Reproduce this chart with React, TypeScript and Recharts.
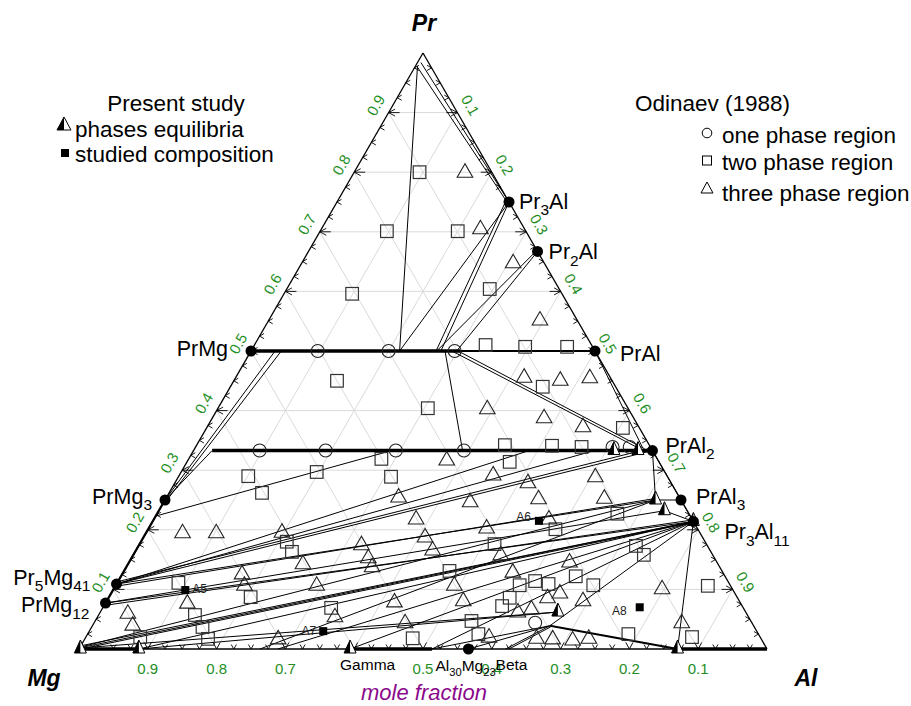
import React from 'react';
import { ScatterChart, Scatter, XAxis, YAxis } from 'recharts';

// Compositions are written as [x(Al), x(Pr)]; x(Mg) = 1 - x(Al) - x(Pr).
type Comp = [number, number];
type Seg = [Comp, Comp];

// Intermetallic phases on the binary edges
const PHASE_NAMES = ['Pr3Al', 'Pr2Al', 'PrAl', 'PrAl2', 'PrAl3', 'Pr3Al11', 'PrMg', 'PrMg3', 'Pr5Mg41', 'PrMg12', 'Al30Mg23'];
const PHASE_AL = [0.25, 0.333, 0.5, 0.667, 0.75, 0.786, 0, 0, 0, 0, 0.566];
const PHASE_PR = [0.75, 0.667, 0.5, 0.333, 0.25, 0.214, 0.5, 0.25, 0.109, 0.077, 0];

// Al-Mg side phases named only by text
const SIDE_NAMES = ['Gamma', 'Beta'];
const SIDE_AL = [0.394, 0.62];

// Odinaev (1988) alloys
const ONE_PHASE: Comp[] = [
  [0.097, 0.5], [0.2, 0.5], [0.296, 0.5],
  [0.096, 0.333], [0.192, 0.333], [0.294, 0.333], [0.393, 0.333],
  [0.606, 0.339], [0.631, 0.339], [0.641, 0.044],
];

const TWO_PHASE: Comp[] = [
  [0.095, 0.8], [0.097, 0.701], [0.2, 0.701], [0.099, 0.596], [0.295, 0.604],
  [0.336, 0.51], [0.395, 0.507], [0.456, 0.507],
  [0.15, 0.45], [0.305, 0.404], [0.454, 0.44], [0.605, 0.371],
  [0.448, 0.342], [0.517, 0.341], [0.561, 0.339],
  [0.28, 0.319], [0.469, 0.314], [0.309, 0.289], [0.669, 0.227], [0.592, 0.201], [0.516, 0.176], [0.473, 0.131],
  [0.723, 0.173], [0.742, 0.158], [0.661, 0.122], [0.606, 0.114], [0.628, 0.109], [0.587, 0.107], [0.694, 0.107],
  [0.583, 0.086], [0.579, 0.072], [0.547, 0.047], [0.568, 0.025], [0.476, 0.018], [0.786, 0.025], [0.861, 0.106], [0.881, 0.02],
  [0.101, 0.29], [0.197, 0.297], [0.135, 0.262], [0.212, 0.18], [0.228, 0.163], [0.089, 0.111], [0.206, 0.087], [0.332, 0.069],
  [0.14, 0.057], [0.161, 0.037], [0.179, 0.017], [0.079, 0.02],
];

const THREE_PHASE: Comp[] = [
  [0.161, 0.8], [0.231, 0.705], [0.307, 0.648], [0.394, 0.552],
  [0.392, 0.403], [0.419, 0.456], [0.474, 0.451], [0.515, 0.455], [0.482, 0.388], [0.546, 0.373],
  [0.376, 0.317], [0.456, 0.292], [0.606, 0.289], [0.513, 0.279], [0.337, 0.255], [0.445, 0.247], [0.542, 0.252], [0.637, 0.253],
  [0.574, 0.218], [0.381, 0.218], [0.491, 0.203], [0.409, 0.188], [0.323, 0.175], [0.431, 0.166], [0.344, 0.153], [0.534, 0.158],
  [0.357, 0.138], [0.566, 0.129], [0.64, 0.146], [0.492, 0.107], [0.652, 0.094], [0.638, 0.086], [0.518, 0.081], [0.419, 0.079],
  [0.692, 0.081], [0.607, 0.062], [0.624, 0.067], [0.452, 0.044], [0.586, 0.02], [0.656, 0.018], [0.68, 0.017], [0.71, 0.015], [0.732, 0.018],
  [0.797, 0.101], [0.854, 0.044], [0.345, 0.054],
  [0.053, 0.195], [0.102, 0.195], [0.197, 0.196], [0.254, 0.143], [0.174, 0.126], [0.187, 0.107], [0.292, 0.107], [0.119, 0.077],
  [0.041, 0.06], [0.058, 0.04], [0.281, 0.017],
];

// Present study
const EQUILIBRIA: Comp[] = [
  [0.002, 0], [0.087, 0], [0.394, 0], [0.665, 0.062], [0.87, 0],
  [0.611, 0.333], [0.646, 0.333], [0.713, 0.25], [0.735, 0.232], [0.786, 0.214],
];
const SAMPLE_NAMES = ['A5', 'A6', 'A7', 'A8'];
const SAMPLE_AL = [0.105, 0.561, 0.34, 0.78];
const SAMPLE_PR = [0.099, 0.215, 0.03, 0.07];

// Tie lines and phase boundaries
const TIE_LINES: Seg[] = [
  [[0.003, 0.977], [0.245, 0.752]], [[0.005, 0.984], [0.25, 0.75]], [[0.003, 0.978], [0.216, 0.5]],
  [[0.216, 0.5], [0.25, 0.75]], [[0.269, 0.5], [0.245, 0.748]], [[0.276, 0.5], [0.25, 0.75]],
  [[0.27, 0.5], [0.33, 0.666]], [[0.299, 0.5], [0.333, 0.667]],
  [[0.035, 0.5], [0, 0.25]], [[0.044, 0.5], [0.003, 0.25]], [[0.027, 0.333], [0, 0.25]],
  [[0.282, 0.5], [0.391, 0.333]], [[0.292, 0.5], [0.647, 0.336]], [[0.301, 0.5], [0.654, 0.336]],
  [[0.5, 0.5], [0.651, 0.337]],
  [[0.667, 0.333], [0.713, 0.25]], [[0.667, 0.333], [0.786, 0.214]], [[0.713, 0.25], [0.75, 0.25]], [[0.735, 0.232], [0.786, 0.214]],
  [[0, 0.223], [0.288, 0.333]], [[0, 0.109], [0.488, 0.333]], [[0, 0.109], [0.583, 0.333]],
  [[0, 0.109], [0.667, 0.333]], [[0, 0.113], [0.66, 0.336]],
  [[0, 0.109], [0.713, 0.25]], [[0, 0.105], [0.709, 0.252]],
  [[0, 0.077], [0.786, 0.214]], [[0, 0.073], [0.781, 0.216]], [[0, 0.077], [0.735, 0.232]],
  [[0.004, 0.003], [0.786, 0.214]], [[0.01, 0.002], [0.784, 0.212]], [[0.002, 0.006], [0.786, 0.214]],
  [[0.004, 0.002], [0.665, 0.062]], [[0.003, 0.004], [0.713, 0.25]],
  [[0.087, 0], [0.786, 0.214]], [[0.087, 0], [0.665, 0.062]],
  [[0.263, 0], [0.713, 0.25]], [[0.289, 0], [0.786, 0.214]],
  [[0.394, 0], [0.786, 0.214]], [[0.513, 0], [0.786, 0.214]],
  [[0.513, 0], [0.665, 0.039]], [[0.665, 0.039], [0.62, 0]], [[0.667, 0.037], [0.625, 0]],
  [[0.665, 0.039], [0.566, 0]], [[0.665, 0.039], [0.786, 0.214]], [[0.87, 0], [0.786, 0.214]],
];
const HEAVY_LINES: Seg[] = [
  [[0, 0.5], [0.304, 0.5]], [[0.027, 0.333], [0.667, 0.333]],
  [[0, 0], [0.087, 0]], [[0.394, 0], [0.513, 0]], [[0.87, 0], [1, 0]],
];
const MEDIUM_LINES: Seg[] = [
  [[0.304, 0.5], [0.5, 0.5]], [[0.665, 0.039], [0.87, 0]], [[0, 0.077], [0, 0.25]],
];

// Axis ticks
const TICK_VALUES = [0.1, 0.2, 0.3, 0.4, 0.5, 0.6, 0.7, 0.8, 0.9];
const PR_TICK_LABELS = ['0.1', '0.2', '0.3', '0.4', '0.5', '0.6', '0.7', '0.8', '0.9'];
const AL_TICK_LABELS = ['0.1', '0.2', '0.3', '0.4', '0.5', '0.6', '0.7', '0.8', '0.9'];
const MG_TICK_VALUES = [0.9, 0.8, 0.7, 0.5, 0.4, 0.3, 0.2, 0.1];
const MG_TICK_LABELS = ['0.9', '0.8', '0.7', '0.5', '0.4', '0.3', '0.2', '0.1'];
const MINOR_DIVISIONS = 40;

// ---------------------------------------------------------------------------
const H = Math.sqrt(3) / 2;
const FONT = '"Liberation Sans", Arial, Helvetica, sans-serif';
const GREEN = '#1e8e1e';
const W = 911;
const HT = 706;

const pt = (al: number, pr: number, extra: Record<string, unknown> = {}) => ({ x: al + pr / 2, y: pr * H, ...extra });

const LABEL_POS: Record<string, { dx: number; dy: number; anchor: 'start' | 'end'; size: number }> = {
  Pr3Al: { dx: 10, dy: 7, anchor: 'start', size: 21.5 },
  Pr2Al: { dx: 11, dy: 8, anchor: 'start', size: 21.5 },
  PrAl: { dx: 25, dy: 10, anchor: 'start', size: 21.5 },
  PrAl2: { dx: 13, dy: 2, anchor: 'start', size: 21.5 },
  PrAl3: { dx: 15, dy: 4, anchor: 'start', size: 21.5 },
  Pr3Al11: { dx: 31, dy: 18, anchor: 'start', size: 21.5 },
  PrMg: { dx: -23, dy: 5, anchor: 'end', size: 21.5 },
  PrMg3: { dx: -13, dy: 4, anchor: 'end', size: 21.5 },
  Pr5Mg41: { dx: -26, dy: 1, anchor: 'end', size: 21.5 },
  PrMg12: { dx: -16, dy: 9, anchor: 'end', size: 21.5 },
  Al30Mg23: { dx: -33, dy: 22, anchor: 'start', size: 15.5 },
  Gamma: { dx: -10, dy: 21, anchor: 'start', size: 15.5 },
  Beta: { dx: -10, dy: 21, anchor: 'start', size: 15.5 },
};
const SAMPLE_POS: Record<string, { dx: number; dy: number; anchor: 'start' | 'end' }> = {
  A5: { dx: 7, dy: 3, anchor: 'start' },
  A6: { dx: -8, dy: 0, anchor: 'end' },
  A7: { dx: -7, dy: 4, anchor: 'end' },
  A8: { dx: -13, dy: 8, anchor: 'end' },
};

function formulaSpans(text: string, size: number) {
  const parts = text.match(/[A-Za-z]+|\d+/g) || [];
  let low = false;
  return parts.map((p, i) => {
    const isNum = /\d/.test(p);
    let dy = 0;
    if (isNum && !low) { dy = size * 0.3; low = true; }
    else if (!isNum && low) { dy = -size * 0.3; low = false; }
    return (
      <tspan key={i} dy={dy} fontSize={isNum ? size * 0.72 : size}>{p}</tspan>
    );
  });
}

const Blank = () => <g />;

const OpenCircle = (p: any) => <circle cx={p.cx} cy={p.cy} r={6.5} fill="none" stroke="#222" strokeWidth={1.1} />;
const OpenSquare = (p: any) => <rect x={p.cx - 6.3} y={p.cy - 6.3} width={12.6} height={12.6} fill="none" stroke="#333" strokeWidth={1.2} />;
const OpenTriangle = (p: any) => (
  <polygon points={`${p.cx},${p.cy - 8.5} ${p.cx - 7.8},${p.cy + 5} ${p.cx + 7.8},${p.cy + 5}`} fill="none" stroke="#222" strokeWidth={1.1} />
);
const HalfTriangle = (p: any) => (
  <g>
    <polygon points={`${p.cx},${p.cy - 9} ${p.cx - 6},${p.cy + 4} ${p.cx + 6},${p.cy + 4}`} fill="#fff" stroke="#000" strokeWidth={1} />
    <polygon points={`${p.cx},${p.cy - 9} ${p.cx - 6},${p.cy + 4} ${p.cx},${p.cy + 4}`} fill="#000" />
  </g>
);
const PhaseDot = (p: any) => <circle cx={p.cx} cy={p.cy} r={5.5} fill="#000" />;

const PhaseLabel = (p: any) => {
  const name: string = p.payload.name;
  const pos = LABEL_POS[name];
  return (
    <text x={p.cx + pos.dx} y={p.cy + pos.dy} textAnchor={pos.anchor} fontFamily={FONT} fontSize={pos.size} fill="#000">
      {formulaSpans(name, pos.size)}
    </text>
  );
};

const SampleMark = (p: any) => {
  const name: string = p.payload.name;
  const pos = SAMPLE_POS[name];
  return (
    <g>
      <rect x={p.cx - 4} y={p.cy - 4} width={8} height={8} fill="#000" />
      <text x={p.cx + pos.dx} y={p.cy + pos.dy} textAnchor={pos.anchor} fontFamily={FONT} fontSize={12} fill="#222">{name}</text>
    </g>
  );
};

const TickMark = (p: any) => {
  const { cx, cy } = p;
  const { side, major } = p.payload;
  const a = major ? 6.5 : 4.5;
  const b = major ? 3.5 : 2.6;
  let d = '';
  if (side === 'L') d = `M${cx + a},${cy - b}L${cx},${cy}L${cx + a},${cy + b}` + (major ? `M${cx},${cy}L${cx + 11},${cy}` : '');
  if (side === 'R') d = `M${cx - a},${cy - b}L${cx},${cy}L${cx - a},${cy + b}` + (major ? `M${cx},${cy}L${cx - 11},${cy}` : '');
  if (side === 'B') d = `M${cx - b},${cy - a}L${cx},${cy}L${cx + b},${cy - a}`;
  return <path d={d} fill="none" stroke="#000" strokeWidth={0.9} />;
};

const TickLabel = (p: any) => {
  const { side, text } = p.payload;
  let x = p.cx;
  let y = p.cy;
  let rot = 0;
  if (side === 'L') { x -= 13; y -= 7.5; rot = -60; }
  if (side === 'R') { x += 13; y -= 7.5; rot = 60; }
  if (side === 'B') { y += 19; }
  return (
    <text x={x} y={y} transform={`rotate(${rot},${x},${y})`} textAnchor="middle" dominantBaseline="central"
      fontFamily={FONT} fontSize={15} fill={GREEN}>{text}</text>
  );
};

function segment(seg: Seg, key: string, stroke: string, width: number) {
  return (
    <Scatter key={key} data={[pt(seg[0][0], seg[0][1]), pt(seg[1][0], seg[1][1])]}
      line={{ stroke, strokeWidth: width }} shape={Blank} legendType="none" isAnimationActive={false} />
  );
}

export default function App() {
  const grid: Seg[] = [];
  TICK_VALUES.forEach((v) => {
    grid.push([[0, v], [1 - v, v]]);
    grid.push([[v, 0], [v, 1 - v]]);
    grid.push([[1 - v, 0], [0, 1 - v]]);
  });

  const border: Seg[] = [[[0, 0], [1, 0]], [[1, 0], [0, 1]], [[0, 1], [0, 0]]];

  const ticks: any[] = [];
  for (let i = 1; i < MINOR_DIVISIONS; i++) {
    const t = i / MINOR_DIVISIONS;
    const major = i % 4 === 0;
    ticks.push(pt(t, 0, { side: 'B', major }), pt(0, t, { side: 'L', major }), pt(1 - t, t, { side: 'R', major }));
  }

  const tickLabels = [
    ...TICK_VALUES.map((v, i) => pt(0, v, { side: 'L', text: PR_TICK_LABELS[i] })),
    ...TICK_VALUES.map((v, i) => pt(v, 1 - v, { side: 'R', text: AL_TICK_LABELS[i] })),
    ...MG_TICK_VALUES.map((v, i) => pt(1 - v, 0, { side: 'B', text: MG_TICK_LABELS[i] })),
  ];

  const phases = PHASE_NAMES.map((n, i) => pt(PHASE_AL[i], PHASE_PR[i], { name: n }));
  const sideLabels = SIDE_NAMES.map((n, i) => pt(SIDE_AL[i], 0, { name: n }));
  const samples = SAMPLE_NAMES.map((n, i) => pt(SAMPLE_AL[i], SAMPLE_PR[i], { name: n }));

  const legendSize = 22.5;

  return (
    <div style={{ position: 'absolute', left: 0, top: 0, width: W, height: HT, background: '#fff' }}>
      <ScatterChart width={W} height={HT} margin={{ top: 53, right: 144, bottom: 57, left: 79 }}>
        <XAxis type="number" dataKey="x" domain={[0, 1]} hide />
        <YAxis type="number" dataKey="y" domain={[0, H]} hide />

        {grid.map((s, i) => segment(s, `g${i}`, '#dadada', 1))}
        {TIE_LINES.map((s, i) => segment(s, `t${i}`, '#000', 1))}
        {border.map((s, i) => segment(s, `b${i}`, '#000', 1.3))}
        {MEDIUM_LINES.map((s, i) => segment(s, `m${i}`, '#000', 2.2))}
        {HEAVY_LINES.map((s, i) => segment(s, `h${i}`, '#000', 3.6))}

        <Scatter data={ticks} shape={TickMark} legendType="none" isAnimationActive={false} />
        <Scatter data={tickLabels} shape={TickLabel} legendType="none" isAnimationActive={false} />

        <Scatter data={ONE_PHASE.map(([a, p]) => pt(a, p))} shape={OpenCircle} legendType="none" isAnimationActive={false} />
        <Scatter data={TWO_PHASE.map(([a, p]) => pt(a, p))} shape={OpenSquare} legendType="none" isAnimationActive={false} />
        <Scatter data={THREE_PHASE.map(([a, p]) => pt(a, p))} shape={OpenTriangle} legendType="none" isAnimationActive={false} />
        <Scatter data={EQUILIBRIA.map(([a, p]) => pt(a, p))} shape={HalfTriangle} legendType="none" isAnimationActive={false} />
        <Scatter data={samples} shape={SampleMark} legendType="none" isAnimationActive={false} />
        <Scatter data={phases} shape={PhaseDot} legendType="none" isAnimationActive={false} />
        <Scatter data={phases} shape={PhaseLabel} legendType="none" isAnimationActive={false} />
        <Scatter data={sideLabels} shape={PhaseLabel} legendType="none" isAnimationActive={false} />
      </ScatterChart>

      <svg width={W} height={HT} style={{ position: 'absolute', left: 0, top: 0, pointerEvents: 'none' }} fontFamily={FONT}>
        <text x={424} y={23} textAnchor="middle" dominantBaseline="central" fontSize={23} fontWeight="bold" fontStyle="italic">Pr</text>
        <text x={44} y={678} textAnchor="middle" dominantBaseline="central" fontSize={23} fontWeight="bold" fontStyle="italic">Mg</text>
        <text x={806} y={678} textAnchor="middle" dominantBaseline="central" fontSize={23} fontWeight="bold" fontStyle="italic">Al</text>
        <text x={424} y={692} textAnchor="middle" dominantBaseline="central" fontSize={22} fontStyle="italic" fill="#8b0a8b">mole fraction</text>

        <text x={176} y={103} textAnchor="middle" dominantBaseline="central" fontSize={legendSize}>Present study</text>
        <polygon points="64,117 57,130 71,130" fill="#fff" stroke="#000" strokeWidth={1} />
        <polygon points="64,117 57,130 64,130" fill="#000" />
        <text x={75} y={129} dominantBaseline="central" fontSize={legendSize}>phases equilibria</text>
        <rect x={61} y={149} width={8} height={8} fill="#000" />
        <text x={75} y={154} dominantBaseline="central" fontSize={legendSize}>studied composition</text>

        <text x={635} y={103} dominantBaseline="central" fontSize={legendSize}>Odinaev (1988)</text>
        <circle cx={707} cy={133} r={4.8} fill="none" stroke="#000" strokeWidth={1} />
        <text x={722} y={135} dominantBaseline="central" fontSize={legendSize}>one phase region</text>
        <rect x={702.5} y={156} width={9} height={9} fill="none" stroke="#000" strokeWidth={1} />
        <text x={722} y={162} dominantBaseline="central" fontSize={legendSize}>two phase region</text>
        <polygon points="707,182 701,193 713,193" fill="none" stroke="#000" strokeWidth={1} />
        <text x={722} y={193} dominantBaseline="central" fontSize={legendSize}>three phase region</text>
      </svg>
    </div>
  );
}
